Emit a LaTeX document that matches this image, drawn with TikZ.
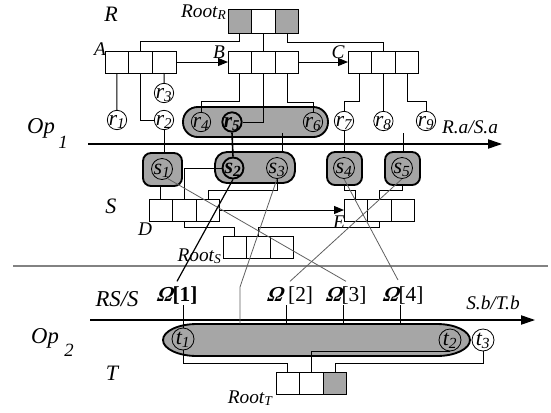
\documentclass[tikz,border=0pt]{standalone}
\usepackage{fontspec}
\setmainfont{Liberation Serif}
\newfontfamily\omf{Liberation Serif}[BoldItalicFeatures={FakeSlant=0.22}]
\usetikzlibrary{arrows.meta,calc}
\definecolor{fillg}{RGB}{166,166,166}
\definecolor{lineg}{RGB}{95,95,95}
\definecolor{sepg}{RGB}{130,130,130}
\newcommand\myfs[1]{\fontsize{#1}{#1}\selectfont}
\newcommand\cl[1]{\smash{\makebox[0pt]{\raisebox{-0.24em}{#1}}}}
\newcommand\Om{{\omf\bfseries\itshape Ω}}
\begin{document}
\begin{tikzpicture}[x=0.75pt,y=-0.75pt,
  line width=0.75pt,
  cell/.style={draw, line width=0.75pt, minimum width=17.7pt, minimum height=16.5pt, inner sep=0pt, outer sep=0pt},
  gcell/.style={cell, fill=fillg},
  rc/.style={draw, circle, line width=0.6pt, minimum size=14.5pt, inner sep=0pt, font=\myfs{16pt}\itshape},
  sc/.style={draw, circle, line width=0.6pt, minimum size=15.75pt, inner sep=0pt, font=\myfs{16.5pt}\itshape},
  thickc/.style={line width=1.4pt},
  ovalbox/.style={draw, fill=fillg, line width=1.4pt, inner sep=0pt, outer sep=0pt},
  lbl/.style={inner sep=0pt, font=\myfs{14.5pt}\itshape},
  big/.style={inner sep=0pt, font=\myfs{16.5pt}\itshape},
  rootl/.style={inner sep=0pt, font=\myfs{14.5pt}\itshape, anchor=base east},
  oml/.style={inner sep=0pt, font=\myfs{16pt}},
  arr/.style={-{Triangle[length=7.5pt,width=6pt]}},
  axis/.style={line width=0.8pt, -{Triangle[length=10.5pt,width=7pt]}},
  diag/.style={draw=lineg, line width=0.6pt},
  sepline/.style={draw=sepg, line width=1pt}
]
\useasboundingbox (0,0) rectangle (551,412);

% ---------- R part ----------
\node[big] (labR) at (111,14) {R};
\node[gcell, minimum height=18pt] (RR1) at (239.8,21) {};
\node[cell, minimum height=18pt] (RR2) at (263.4,21) {};
\node[gcell, minimum height=18pt] (RR3) at (287,21) {};
\node[rootl] (rootR) at (227,17) {Root\textsubscript{R}};

\node[cell] (A1) at (116.8,62) {};
\node[cell] (A2) at (140.5,62) {};
\node[cell] (A3) at (164.2,62) {};
\node[cell] (B1) at (239.8,62) {};
\node[cell] (B2) at (263.4,62) {};
\node[cell] (B3) at (287,62) {};
\node[cell] (C1) at (359.8,62) {};
\node[cell] (C2) at (383.4,62) {};
\node[cell] (C3) at (407,62) {};
\node[lbl] (labA) at (100,49) {A};
\node[lbl] (labB) at (219,52) {B};
\node[lbl] (labC) at (338,52) {C};

\node[ovalbox, minimum width=108.75pt, minimum height=22.5pt, rounded corners=11pt] (Rov) at (255.5,122) {};

\node[rc] (r1) at (117,120) {\cl{r\textsubscript{1}}};
\node[rc] (r2) at (164,120) {\cl{r\textsubscript{2}}};
\node[rc] (r3) at (164,93) {\cl{r\textsubscript{3}}};
\node[rc] (r4) at (201,122) {\cl{r\textsubscript{4}}};
\node[rc, thickc] (r5) at (232,122) {\cl{\bfseries r\textsubscript{5}}};
\node[rc] (r6) at (313,122) {\cl{r\textsubscript{6}}};
\node[rc] (r7) at (344,121) {\cl{r\textsubscript{7}}};
\node[rc] (r8) at (383.4,121) {\cl{r\textsubscript{8}}};
\node[rc] (r9) at (426,121) {\cl{r\textsubscript{9}}};

\draw (RR1.south) -- ++(0,8) -| (A2.north);
\draw (RR2.south) -- (B2.north);
\draw (RR3.south) -- ++(0,9) -| (C2.north);
\draw[arr] (A3.east) -- (B1.west);
\draw[arr] (B3.east) -- (C1.west);
\draw (A1.south) -- (r1.north);
\draw (A3.south) -- (r3.north);
\draw (A2.south) |- (r2.west);
\draw (B1.south) -- ++(0,28) -| (r4.north);
\draw (B2.south) |- (r5.east);
\draw (B3.south) -- ++(0,29) -| (r6.north);
\draw (C1.south) -- ++(0,28) -| (r7.north);
\draw (C2.south) -- (r8.north);
\draw (C3.south) -- ++(0,28) -| (r9.north);

% ---------- Op1 axis ----------
\coordinate (ax1a) at (88,144);
\coordinate (ax1b) at (502,144);
\draw[axis] (ax1a) -- (ax1b);
\node[lbl] (RaSa) at (470,127) {R.a/S.a};
\node[big, font=\myfs{17pt}\itshape] (op1) at (41,128) {Op};
\node[big, font=\myfs{14pt}\itshape] (op1s) at (63,142) {1};

% ---------- S part ----------
\node[ovalbox, minimum width=29.25pt, minimum height=24.75pt, rounded corners=6pt] (s1b) at (162.5,169.5) {};
\node[ovalbox, minimum width=60pt, minimum height=23.25pt, rounded corners=9pt] (s23b) at (255,167.5) {};
\node[ovalbox, minimum width=26.25pt, minimum height=24.75pt, rounded corners=6pt] (s4b) at (344.5,168.5) {};
\node[ovalbox, minimum width=26.25pt, minimum height=24.75pt, rounded corners=6pt] (s5b) at (402.5,168.5) {};
\node[sc] (s1) at (162,169) {\cl{s\textsubscript{1}}};
\node[sc, thickc] (s2) at (233,168) {\cl{\bfseries s\textsubscript{2}}};
\node[sc] (s3) at (277,168) {\cl{s\textsubscript{3}}};
\node[sc] (s4) at (344,168) {\cl{s\textsubscript{4}}};
\node[sc] (s5) at (402,168) {\cl{s\textsubscript{5}}};

\draw (r2.south) -- (r2.south |- s1b.north);
\draw[line width=1.2pt] (r5.south) -- (s2.north);
\coordinate (q3) at (282,133);
\draw (q3) -- (q3 |- s23b.north);
\draw (r7.south) -- (r7.south |- s4b.north);
\coordinate (q5) at (403,133);
\draw (q5) -- (q5 |- s5b.north);

\node[big] (labS) at (111,206) {S};
\node[cell] (D1) at (160.8,210) {};
\node[cell] (D2) at (184.4,210) {};
\node[cell] (D3) at (208,210) {};
\node[lbl] (labD) at (145,229) {D};
\node[cell] (E1) at (355.8,210) {};
\node[cell] (E2) at (379.4,210) {};
\node[cell] (E3) at (403,210) {};
\node[lbl] (labE) at (339,222) {E};
\node[cell] (RS1) at (234.8,247.5) {};
\node[cell] (RS2) at (258.4,247.5) {};
\node[cell] (RS3) at (282,247.5) {};
\node[rootl] (rootS) at (222,261) {Root\textsubscript{S}};

\draw (D1.north) -- (D1.north |- s1b.south);
\draw (D2.north) |- (s2.west);
\draw (D3.north) -- ++(0,-9) -| (s3.south);
\draw[arr] (D3.east) -- (E1.west);
\draw (RS1.north) -- ++(0,-9.5) -| (D2.south);
\draw (RS2.north) -- ++(0,-9.5) -| (E2.south);
\draw (E1.north) -- ++(0,-9) -| (s4b.south);
\draw (E2.north) -- ++(0,-9) -| (s5b.south);

% ---------- separator ----------
\coordinate (sepL) at (13,266);
\coordinate (sepR) at (548,266);
\draw[sepline] (sepL) -- (sepR);

% ---------- Omega labels ----------
\node[oml] (o1) at (177,296) {\Om\textbf{[1]}};
\node[oml] (o2) at (290,296) {\Om{} [2]};
\node[oml] (o3) at (346,296) {\Om[3]};
\node[oml] (o4) at (403,296) {\Om[4]};
\node[big, font=\myfs{17pt}\itshape] (RSS) at (117,299) {RS/S};

% ---------- T part ----------
\node[inner sep=0pt, minimum width=230.25pt, minimum height=24pt] (Tov) at (316.5,340) {};
\draw[fill=fillg, line width=1.4pt] (197,324) -- (437,324)
  arc[start angle=-90, end angle=90, x radius=33, y radius=16] -- (197,356)
  arc[start angle=90, end angle=270, x radius=34, y radius=16] -- cycle;
\node[sc, minimum size=16.5pt] (t1) at (183,339) {\cl{t\textsubscript{1}}};
\node[sc, minimum size=16.5pt] (t2) at (450,340) {\cl{t\textsubscript{2}}};
\node[sc, minimum size=16.5pt] (t3) at (483,340) {\cl{t\textsubscript{3}}};

\coordinate (ax2a) at (90,320);
\coordinate (ax2b) at (535,320);
\draw[axis] (ax2a) -- (ax2b);
\node[lbl] (SbTb) at (493,303) {S.b/T.b};
\node[big, font=\myfs{17pt}\itshape] (op2) at (45,338) {Op};
\node[big, font=\myfs{14pt}\itshape] (op2s) at (69,350) {2};
\node[big] (labT) at (112,373) {T};

\node[cell] (RT1) at (287.8,383) {};
\node[cell] (RT2) at (311.4,383) {};
\node[gcell] (RT3) at (335,383) {};
\node[rootl] (rootT) at (273,403) {Root\textsubscript{T}};

% ticks from Omega labels to T
\draw (o1.south -| t1.north) -- (t1.north);
\coordinate (o2b) at ($(o2.south)+(-4,0)$);
\draw (o2b) -- (o2b |- Tov.north);
\coordinate (o3b) at ($(o3.south)+(-3,0)$);
\draw (o3b) -- (o3b |- Tov.north);
\coordinate (o4b) at ($(o4.south)+(-3,0)$);
\draw (o4b) -- (o4b |- Tov.north);

% diagonals
\draw[diag] (s1.-60) -- ([yshift=4pt]o3.north);
\draw[line width=0.9pt] (s2.south) -- ([yshift=4pt]o1.north);
\coordinate (k3) at (240,287);
\draw[diag] (s3.south) -- (k3) -- (k3 |- Tov.north);
\draw[diag] (s4.south) -- ([xshift=-3.75pt,yshift=5pt]o4.north);
\draw[diag] (s5.south) -- ([yshift=4pt]o2.north);

% T connectors
\draw (t1.south) -- ++(0,13) -| (RT1.north);
\draw (RT2.north) |- (t2.south);
\draw (RT3.north) -- ++(0,-9) -| (t3.south);
\end{tikzpicture}
\end{document}
